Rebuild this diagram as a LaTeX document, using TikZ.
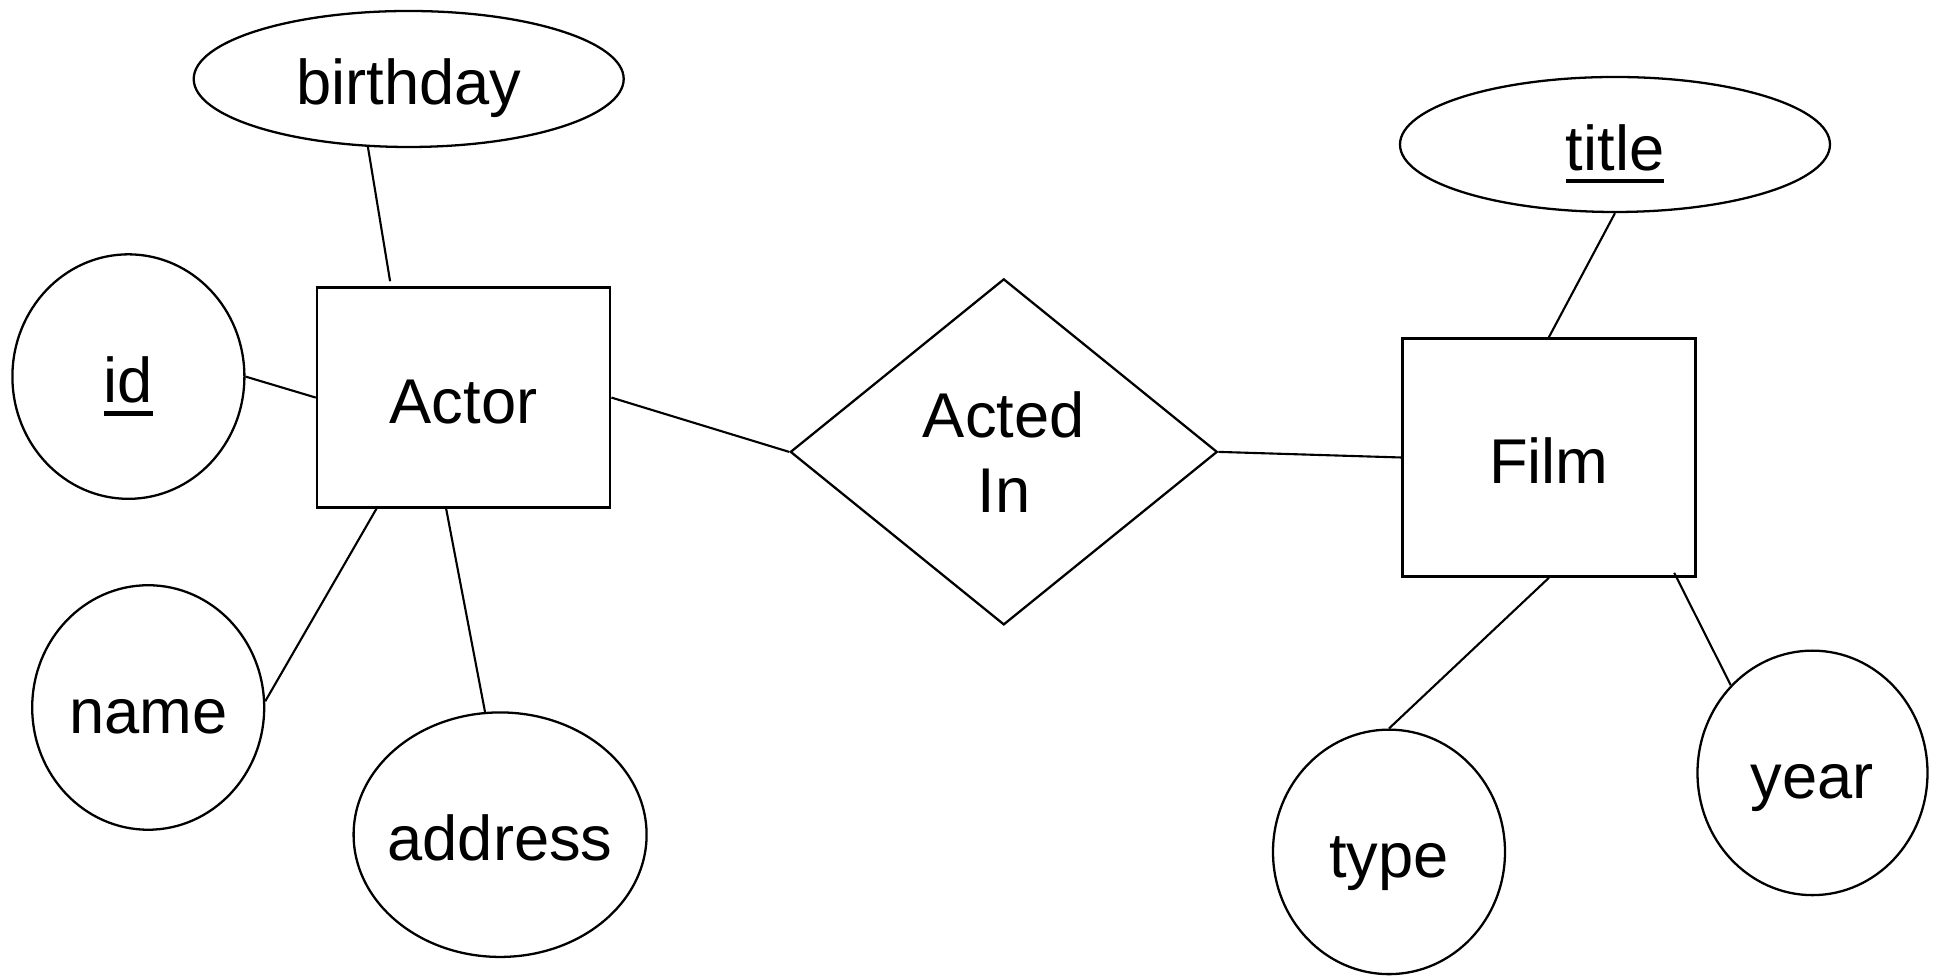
\documentclass[tikz,border=0pt]{standalone}
\usepackage{fontspec}
\setmainfont{Liberation Sans}
\usetikzlibrary{shapes.geometric}
\newcommand\keyattr[1]{\setbox0\hbox{#1}\rlap{\rule[-.13cm]{\wd0}{.045cm}}\box0}
\tikzset{
  attr/.style={draw,ellipse,line width=.65pt,inner sep=0pt,text height=.52cm,text depth=0pt},
  entity/.style={draw,rectangle,line width=.75pt,inner sep=0pt,text height=.52cm,text depth=0pt},
  rel/.style={draw,diamond,line width=.65pt,inner sep=0pt,align=center},
  link/.style={line width=.6pt}
}
\begin{document}
\begin{tikzpicture}[font=\fontsize{18}{21.5}\selectfont]
\useasboundingbox (0,0) rectangle (19.36,-9.77);
% entities and relationship
\node[entity,minimum width=2.93cm,minimum height=2.2cm] (actor) at (4.636,-3.976) {Actor};
\node[entity,minimum width=2.93cm,minimum height=2.38cm] (film) at (15.489,-4.575) {Film};
\node[rel,minimum width=4.27cm,minimum height=3.46cm] (actedin) at (10.038,-4.519) {Acted\\In};
% attributes
\node[attr,minimum width=4.3cm,minimum height=1.36cm] (birthday) at (4.087,-.79) {birthday};
\node[attr,minimum width=2.32cm,minimum height=2.445cm] (id) at (1.284,-3.766) {\keyattr{id}};
\node[attr,minimum width=2.32cm,minimum height=2.445cm] (name) at (1.482,-7.075) {name};
\node[attr,minimum width=2.93cm,minimum height=2.445cm] (address) at (5.001,-8.347) {\makebox[0pt]{address}};
\node[attr,minimum width=4.3cm,minimum height=1.35cm] (title) at (16.15,-1.445) {\keyattr{title}};
\node[attr,minimum width=2.32cm,minimum height=2.445cm] (type) at (13.89,-8.519) {type};
\node[attr,minimum width=2.3cm,minimum height=2.445cm] (year) at (18.125,-7.729) {year};

\draw[link] (birthday.239)--([xshift=-.735cm,yshift=.05cm]actor.north);
\draw[link] (id.east)--(actor.west);
\draw[link] ([xshift=-.858cm,yshift=.025cm]actor.south)--(name.3);
\draw[link] ([xshift=-.179cm,yshift=.025cm]actor.south)--(address.97);
\draw[link] (actor.east)--(actedin.west);
\draw[link] (actedin.east)--(film.west);
\draw[link] (title.south)--(film.north);
\draw[link] (film.south)--(type.north);
\draw[link] ([xshift=1.253cm,yshift=.05cm]film.south)--(year.133);
\end{tikzpicture}
\end{document}
